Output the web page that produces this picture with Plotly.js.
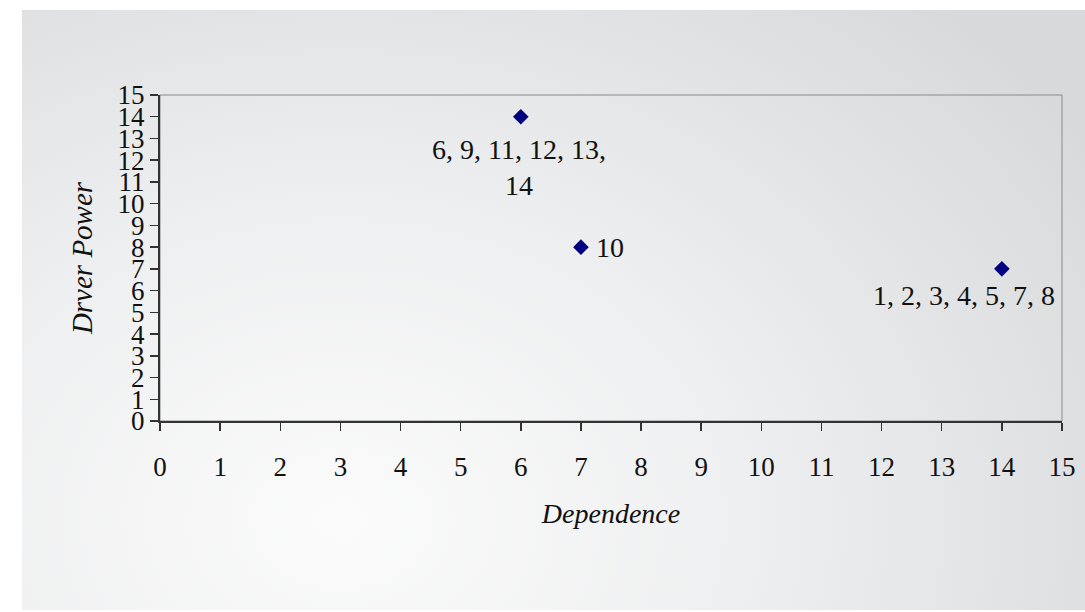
<!DOCTYPE html>
<html>
<head>
<meta charset="utf-8">
<script src="https://cdn.plot.ly/plotly-3.0.1.min.js"></script>
<style>
  html, body { margin: 0; padding: 0; background: #ffffff; }
  #panel {
    position: absolute; left: 22px; top: 10px; width: 1063px; height: 600px;
    background: radial-gradient(ellipse 900px 700px at 30% 85%, #fbfbfb 0%, #eeeff0 45%, #d8d9db 100%);
  }
  #chart { position: absolute; left: 0; top: 0; width: 1085px; height: 612px; }
</style>
</head>
<body>
<div id="panel"></div>
<div id="chart"></div>
<script>
// dependence (x) vs driver power (y) for each group of variables
var dependence = [6, 7, 14];
var driverPower = [14, 8, 7];
var groupLabels = ['6, 9, 11, 12, 13,<br>14', '10', '1, 2, 3, 4, 5, 7, 8'];

var tickVals = [0, 1, 2, 3, 4, 5, 6, 7, 8, 9, 10, 11, 12, 13, 14, 15];

var serif = 'Liberation Serif, Times New Roman, serif';

function createScatter() {
  var data = [{
    x: dependence,
    y: driverPower,
    mode: 'markers',
    type: 'scatter',
    marker: {symbol: 'diamond', color: '#000080', size: 12},
    hoverinfo: 'x+y'
  }];

  // label offsets per group: below, right, below-left
  var anchors = [
    {xanchor: 'center', yanchor: 'top', xshift: -2, yshift: -15},
    {xanchor: 'left', yanchor: 'middle', xshift: 13, yshift: 0},
    {xanchor: 'center', yanchor: 'top', xshift: -38, yshift: -9}
  ];
  var annotations = dependence.map(function (d, i) {
    return {
      x: d, y: driverPower[i], text: groupLabels[i],
      showarrow: false,
      xanchor: anchors[i].xanchor, yanchor: anchors[i].yanchor,
      xshift: anchors[i].xshift, yshift: anchors[i].yshift,
      font: {family: serif, size: 28, color: '#111'}
    };
  });

  var layout = {
    width: 1085,
    height: 612,
    margin: {l: 160, r: 23, t: 95, b: 191},
    paper_bgcolor: 'rgba(0,0,0,0)',
    plot_bgcolor: 'rgba(0,0,0,0)',
    showlegend: false,
    xaxis: {
      range: [0, 15],
      tickvals: tickVals,
      ticks: 'outside', ticklen: 8, tickcolor: '#333', tickwidth: 1.5,
      ticklabelstandoff: 13,
      showgrid: false, zeroline: false,
      showline: true, linecolor: '#333', linewidth: 2,
      tickfont: {family: serif, size: 27, color: '#111'},
      title: {text: '<i>Dependence</i>', standoff: 22, font: {family: serif, size: 28, color: '#111'}}
    },
    yaxis: {
      range: [0, 15],
      tickvals: tickVals,
      ticks: 'outside', ticklen: 8, tickcolor: '#333', tickwidth: 1.5,
      ticklabelstandoff: 0,
      showgrid: false, zeroline: false,
      showline: true, linecolor: '#333', linewidth: 2,
      tickfont: {family: serif, size: 27, color: '#111'},
      title: {text: '<i>Drver Power</i>', standoff: 16, font: {family: serif, size: 29, color: '#111'}}
    },
    shapes: [{
      type: 'rect', xref: 'paper', yref: 'paper', x0: 0, x1: 1, y0: 0, y1: 1,
      line: {color: '#8a8a8a', width: 1}, layer: 'below'
    }],
    annotations: annotations
  };

  Plotly.newPlot('chart', data, layout, {staticPlot: true});
}

createScatter();
</script>
</body>
</html>
